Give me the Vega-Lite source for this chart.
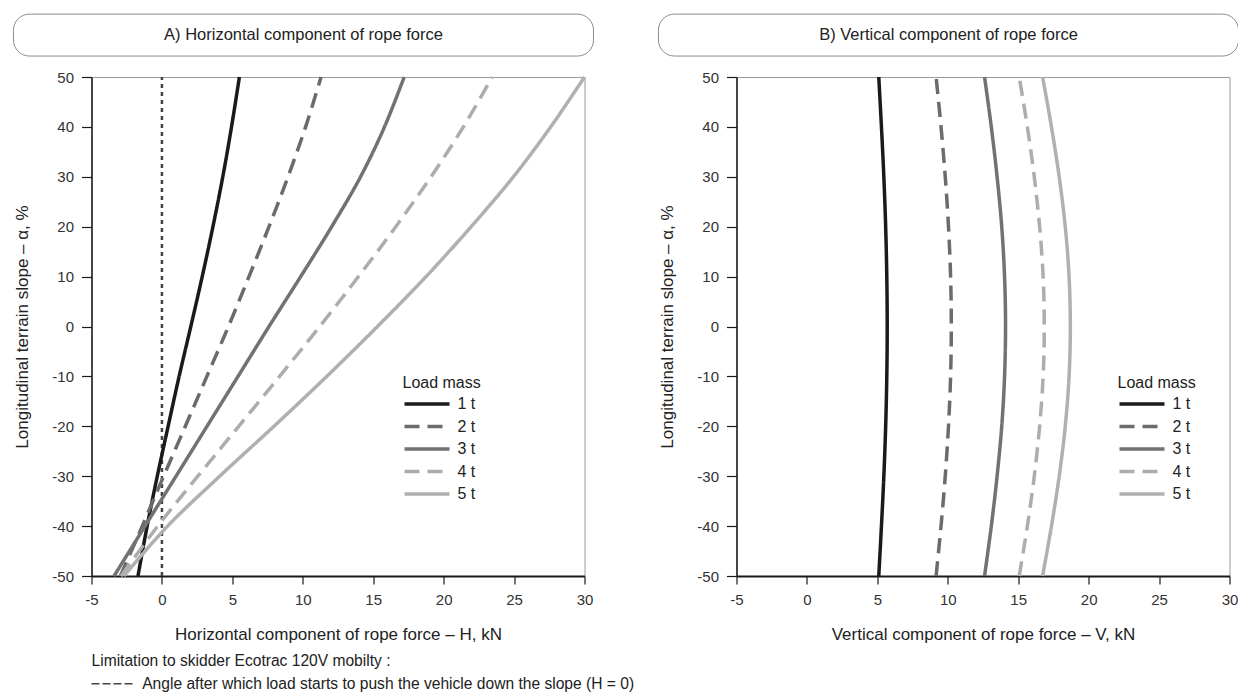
{
  "$schema": "https://vega.github.io/schema/vega-lite/v6.json",
  "background": "white",
  "padding": {"left": 11.5, "top": 13, "right": 0, "bottom": 0},
  "config": {
    "font": "Liberation Sans",
    "view": {"stroke": "#9a9a9a", "strokeWidth": 1},
    "axis": {
      "domainColor": "#1a1a1a",
      "domainWidth": 1.5,
      "gridColor": "#9a9a9a",
      "gridWidth": 1,
      "tickColor": "#1a1a1a",
      "tickWidth": 1.2,
      "labelFont": "Liberation Sans",
      "labelFontSize": 15,
      "labelColor": "#333333",
      "labelFlush": false,
      "titleFont": "Liberation Sans",
      "titleFontSize": 17,
      "titleFontWeight": "normal",
      "titleColor": "#222222"
    },
    "legend": {
      "orient": "none",
      "titleFont": "Liberation Sans",
      "titleFontSize": 16,
      "titleFontWeight": "normal",
      "titleColor": "#222222",
      "labelFont": "Liberation Sans",
      "labelFontSize": 16,
      "labelColor": "#222222",
      "symbolType": "stroke",
      "symbolSize": 2025,
      "symbolStrokeWidth": 3.5,
      "clipHeight": 16,
      "rowPadding": 6.5,
      "labelOffset": 6,
      "titlePadding": 5,
      "padding": 0
    }
  },
  "datasets": {
    "hforce": [
      {"load": "1 t", "slope": -50, "force": -1.70}, {"load": "1 t", "slope": -40, "force": -1.05}, {"load": "1 t", "slope": -30, "force": -0.33}, {"load": "1 t", "slope": -20, "force": 0.44}, {"load": "1 t", "slope": -10, "force": 1.22}, {"load": "1 t", "slope": 0, "force": 2.05}, {"load": "1 t", "slope": 10, "force": 2.86}, {"load": "1 t", "slope": 20, "force": 3.62}, {"load": "1 t", "slope": 30, "force": 4.32}, {"load": "1 t", "slope": 40, "force": 4.94}, {"load": "1 t", "slope": 50, "force": 5.50},
      {"load": "2 t", "slope": -50, "force": -2.95}, {"load": "2 t", "slope": -40, "force": -1.40}, {"load": "2 t", "slope": -30, "force": 0.12}, {"load": "2 t", "slope": -20, "force": 1.66}, {"load": "2 t", "slope": -10, "force": 3.19}, {"load": "2 t", "slope": 0, "force": 4.72}, {"load": "2 t", "slope": 10, "force": 6.18}, {"load": "2 t", "slope": 20, "force": 7.60}, {"load": "2 t", "slope": 30, "force": 8.95}, {"load": "2 t", "slope": 40, "force": 10.20}, {"load": "2 t", "slope": 50, "force": 11.30},
      {"load": "3 t", "slope": -50, "force": -3.40}, {"load": "3 t", "slope": -40, "force": -1.20}, {"load": "3 t", "slope": -30, "force": 1.00}, {"load": "3 t", "slope": -20, "force": 3.20}, {"load": "3 t", "slope": -10, "force": 5.40}, {"load": "3 t", "slope": 0, "force": 7.60}, {"load": "3 t", "slope": 10, "force": 9.85}, {"load": "3 t", "slope": 20, "force": 12.05}, {"load": "3 t", "slope": 30, "force": 14.10}, {"load": "3 t", "slope": 40, "force": 15.80}, {"load": "3 t", "slope": 50, "force": 17.20},
      {"load": "4 t", "slope": -50, "force": -2.90}, {"load": "4 t", "slope": -40, "force": -0.30}, {"load": "4 t", "slope": -30, "force": 2.55}, {"load": "4 t", "slope": -20, "force": 5.45}, {"load": "4 t", "slope": -10, "force": 8.35}, {"load": "4 t", "slope": 0, "force": 11.20}, {"load": "4 t", "slope": 10, "force": 13.95}, {"load": "4 t", "slope": 20, "force": 16.60}, {"load": "4 t", "slope": 30, "force": 19.10}, {"load": "4 t", "slope": 40, "force": 21.40}, {"load": "4 t", "slope": 50, "force": 23.45},
      {"load": "5 t", "slope": -50, "force": -2.70}, {"load": "5 t", "slope": -40, "force": 0.40}, {"load": "5 t", "slope": -30, "force": 4.10}, {"load": "5 t", "slope": -20, "force": 7.95}, {"load": "5 t", "slope": -10, "force": 11.70}, {"load": "5 t", "slope": 0, "force": 15.30}, {"load": "5 t", "slope": 10, "force": 18.75}, {"load": "5 t", "slope": 20, "force": 21.95}, {"load": "5 t", "slope": 30, "force": 24.95}, {"load": "5 t", "slope": 40, "force": 27.60}, {"load": "5 t", "slope": 50, "force": 30.00}
    ],
    "vforce": [
      {"load": "1 t", "slope": -50, "force": 5.10}, {"load": "1 t", "slope": -40, "force": 5.29}, {"load": "1 t", "slope": -30, "force": 5.46}, {"load": "1 t", "slope": -20, "force": 5.59}, {"load": "1 t", "slope": -10, "force": 5.67}, {"load": "1 t", "slope": 0, "force": 5.70}, {"load": "1 t", "slope": 10, "force": 5.67}, {"load": "1 t", "slope": 20, "force": 5.59}, {"load": "1 t", "slope": 30, "force": 5.46}, {"load": "1 t", "slope": 40, "force": 5.29}, {"load": "1 t", "slope": 50, "force": 5.10},
      {"load": "2 t", "slope": -50, "force": 9.17}, {"load": "2 t", "slope": -40, "force": 9.52}, {"load": "2 t", "slope": -30, "force": 9.82}, {"load": "2 t", "slope": -20, "force": 10.05}, {"load": "2 t", "slope": -10, "force": 10.20}, {"load": "2 t", "slope": 0, "force": 10.25}, {"load": "2 t", "slope": 10, "force": 10.20}, {"load": "2 t", "slope": 20, "force": 10.05}, {"load": "2 t", "slope": 30, "force": 9.82}, {"load": "2 t", "slope": 40, "force": 9.52}, {"load": "2 t", "slope": 50, "force": 9.17},
      {"load": "3 t", "slope": -50, "force": 12.61}, {"load": "3 t", "slope": -40, "force": 13.09}, {"load": "3 t", "slope": -30, "force": 13.50}, {"load": "3 t", "slope": -20, "force": 13.83}, {"load": "3 t", "slope": -10, "force": 14.03}, {"load": "3 t", "slope": 0, "force": 14.10}, {"load": "3 t", "slope": 10, "force": 14.03}, {"load": "3 t", "slope": 20, "force": 13.83}, {"load": "3 t", "slope": 30, "force": 13.50}, {"load": "3 t", "slope": 40, "force": 13.09}, {"load": "3 t", "slope": 50, "force": 12.61},
      {"load": "4 t", "slope": -50, "force": 15.07}, {"load": "4 t", "slope": -40, "force": 15.65}, {"load": "4 t", "slope": -30, "force": 16.14}, {"load": "4 t", "slope": -20, "force": 16.52}, {"load": "4 t", "slope": -10, "force": 16.77}, {"load": "4 t", "slope": 0, "force": 16.85}, {"load": "4 t", "slope": 10, "force": 16.77}, {"load": "4 t", "slope": 20, "force": 16.52}, {"load": "4 t", "slope": 30, "force": 16.14}, {"load": "4 t", "slope": 40, "force": 15.65}, {"load": "4 t", "slope": 50, "force": 15.07},
      {"load": "5 t", "slope": -50, "force": 16.73}, {"load": "5 t", "slope": -40, "force": 17.36}, {"load": "5 t", "slope": -30, "force": 17.91}, {"load": "5 t", "slope": -20, "force": 18.34}, {"load": "5 t", "slope": -10, "force": 18.61}, {"load": "5 t", "slope": 0, "force": 18.70}, {"load": "5 t", "slope": 10, "force": 18.61}, {"load": "5 t", "slope": 20, "force": 18.34}, {"load": "5 t", "slope": 30, "force": 17.91}, {"load": "5 t", "slope": 40, "force": 17.36}, {"load": "5 t", "slope": 50, "force": 16.73}
    ]
  },
  "bounds": "flush",
  "spacing": 152,
  "resolve": {
    "scale": {"x": "independent", "y": "independent", "color": "independent", "strokeDash": "independent"},
    "legend": {"color": "independent", "strokeDash": "independent"}
  },
  "hconcat": [
    {
      "width": 493,
      "height": 499,
      "layer": [
        {
          "data": {"values": [{}]},
          "mark": {"type": "rect", "fill": "white", "strokeWidth": 0},
          "encoding": {
            "x": {"datum": 16.6, "type": "quantitative"},
            "x2": {"datum": 25},
            "y": {"datum": -8, "type": "quantitative"},
            "y2": {"datum": -39}
          }
        },
        {
          "data": {"values": [{}]},
          "mark": {"type": "rule", "color": "#444444", "strokeWidth": 2.5, "strokeDash": [4, 4]},
          "encoding": {
            "x": {"datum": 0, "type": "quantitative"},
            "y": {"datum": -50, "type": "quantitative"},
            "y2": {"datum": 50}
          }
        },
        {
          "data": {"name": "hforce"},
          "mark": {"type": "line", "strokeWidth": 3.5, "interpolate": "catmull-rom"},
          "encoding": {
            "x": {
              "field": "force", "type": "quantitative",
              "scale": {"domain": [-5, 30], "nice": false, "zero": false},
              "axis": {
                "values": [-5, 0, 5, 10, 15, 20, 25, 30],
                "labelExpr": "'' + datum.value",
                "tickSize": 8, "labelPadding": 8, "titlePadding": 19, "domainWidth": 2,
                "title": "Horizontal component of rope force  –  H,  kN"
              }
            },
            "y": {
              "field": "slope", "type": "quantitative",
              "scale": {"domain": [-50, 50], "nice": false, "zero": false},
              "axis": {
                "values": [-50, -45, -40, -35, -30, -25, -20, -15, -10, -5, 0, 5, 10, 15, 20, 25, 30, 35, 40, 45, 50],
                "labelExpr": "datum.value % 10 === 0 ? '' + datum.value : ''",
                "tickOpacity": {"condition": {"test": "datum.value % 10 === 0", "value": 1}, "value": 0},
                "gridColor": {"condition": {"test": "datum.value === 0", "value": "#111111"}, "value": "#9a9a9a"},
                "gridWidth": {"condition": {"test": "datum.value === 0", "value": 1.6}, "value": 1},
                "tickSize": 10, "labelPadding": 8, "titlePadding": 20,
                "title": "Longitudinal terrain slope  –  α, %"
              }
            },
            "order": {"field": "slope", "type": "quantitative"},
            "color": {
              "field": "load", "type": "nominal",
              "scale": {"domain": ["1 t", "2 t", "3 t", "4 t", "5 t"], "range": ["#1a1a1a", "#6b6b6b", "#727272", "#adadad", "#b0b0b0"]},
              "legend": {"title": "Load mass", "legendX": 311, "legendY": 298}
            },
            "strokeDash": {
              "field": "load", "type": "nominal",
              "scale": {"domain": ["1 t", "2 t", "3 t", "4 t", "5 t"], "range": [[1, 0], [15, 8], [1, 0], [15, 8], [1, 0]]},
              "legend": {"title": "Load mass", "legendX": 311, "legendY": 298}
            }
          }
        },
        {
          "data": {"values": [{}]},
          "mark": {"type": "rect", "filled": false, "stroke": "#8c8c8c", "strokeWidth": 1, "cornerRadius": 16},
          "encoding": {
            "x": {"datum": -10.54, "type": "quantitative"},
            "x2": {"datum": 30.64},
            "y": {"datum": 62.6, "type": "quantitative"},
            "y2": {"datum": 54.2}
          }
        },
        {
          "data": {"values": [{}]},
          "mark": {"type": "text", "text": "A) Horizontal component of rope force", "fontSize": 16.5, "color": "#222222", "align": "center", "baseline": "middle"},
          "encoding": {
            "x": {"datum": 10.05, "type": "quantitative"},
            "y": {"datum": 58.4, "type": "quantitative"}
          }
        },
        {
          "data": {"values": [{}]},
          "mark": {"type": "text", "text": "Limitation to skidder Ecotrac 120V mobilty :", "fontSize": 15.6, "color": "#222222", "align": "left", "baseline": "middle"},
          "encoding": {
            "x": {"datum": -5, "type": "quantitative"},
            "y": {"datum": -67.0, "type": "quantitative"}
          }
        },
        {
          "data": {"values": [{}]},
          "mark": {"type": "rule", "color": "#444444", "strokeWidth": 1.5, "strokeDash": [8, 3]},
          "encoding": {
            "x": {"datum": -5, "type": "quantitative"},
            "x2": {"datum": -1.9},
            "y": {"datum": -71.6, "type": "quantitative"}
          }
        },
        {
          "data": {"values": [{}]},
          "mark": {"type": "text", "text": "Angle after which load starts to push the vehicle down the slope (H = 0)", "fontSize": 15.6, "color": "#222222", "align": "left", "baseline": "middle"},
          "encoding": {
            "x": {"datum": -1.4, "type": "quantitative"},
            "y": {"datum": -71.6, "type": "quantitative"}
          }
        }
      ]
    },
    {
      "width": 493,
      "height": 499,
      "layer": [
        {
          "data": {"values": [{}]},
          "mark": {"type": "rect", "fill": "white", "strokeWidth": 0},
          "encoding": {
            "x": {"datum": 21.2, "type": "quantitative"},
            "x2": {"datum": 29.96},
            "y": {"datum": -8, "type": "quantitative"},
            "y2": {"datum": -39}
          }
        },
        {
          "data": {"name": "vforce"},
          "mark": {"type": "line", "strokeWidth": 3.5, "interpolate": "catmull-rom"},
          "encoding": {
            "x": {
              "field": "force", "type": "quantitative",
              "scale": {"domain": [-5, 30], "nice": false, "zero": false},
              "axis": {
                "values": [-5, 0, 5, 10, 15, 20, 25, 30],
                "labelExpr": "'' + datum.value",
                "tickSize": 8, "labelPadding": 8, "titlePadding": 19, "domainWidth": 2,
                "title": "Vertical component of rope force  –  V,  kN"
              }
            },
            "y": {
              "field": "slope", "type": "quantitative",
              "scale": {"domain": [-50, 50], "nice": false, "zero": false},
              "axis": {
                "values": [-50, -45, -40, -35, -30, -25, -20, -15, -10, -5, 0, 5, 10, 15, 20, 25, 30, 35, 40, 45, 50],
                "labelExpr": "datum.value % 10 === 0 ? '' + datum.value : ''",
                "tickOpacity": {"condition": {"test": "datum.value % 10 === 0", "value": 1}, "value": 0},
                "gridColor": {"condition": {"test": "datum.value === 0", "value": "#111111"}, "value": "#9a9a9a"},
                "gridWidth": {"condition": {"test": "datum.value === 0", "value": 1.6}, "value": 1},
                "tickSize": 10, "labelPadding": 8, "titlePadding": 20,
                "title": "Longitudinal terrain slope  –  α, %"
              }
            },
            "order": {"field": "slope", "type": "quantitative"},
            "color": {
              "field": "load", "type": "nominal",
              "scale": {"domain": ["1 t", "2 t", "3 t", "4 t", "5 t"], "range": ["#1a1a1a", "#6b6b6b", "#727272", "#adadad", "#b0b0b0"]},
              "legend": {"title": "Load mass", "legendX": 381, "legendY": 298}
            },
            "strokeDash": {
              "field": "load", "type": "nominal",
              "scale": {"domain": ["1 t", "2 t", "3 t", "4 t", "5 t"], "range": [[1, 0], [15, 8], [1, 0], [15, 8], [1, 0]]},
              "legend": {"title": "Load mass", "legendX": 381, "legendY": 298}
            }
          }
        },
        {
          "data": {"values": [{}]},
          "mark": {"type": "rect", "filled": false, "stroke": "#8c8c8c", "strokeWidth": 1, "cornerRadius": 16},
          "encoding": {
            "x": {"datum": -10.54, "type": "quantitative"},
            "x2": {"datum": 30.64},
            "y": {"datum": 62.6, "type": "quantitative"},
            "y2": {"datum": 54.2}
          }
        },
        {
          "data": {"values": [{}]},
          "mark": {"type": "text", "text": "B) Vertical component of rope force", "fontSize": 16.5, "color": "#222222", "align": "center", "baseline": "middle"},
          "encoding": {
            "x": {"datum": 10.05, "type": "quantitative"},
            "y": {"datum": 58.4, "type": "quantitative"}
          }
        }
      ]
    }
  ]
}
